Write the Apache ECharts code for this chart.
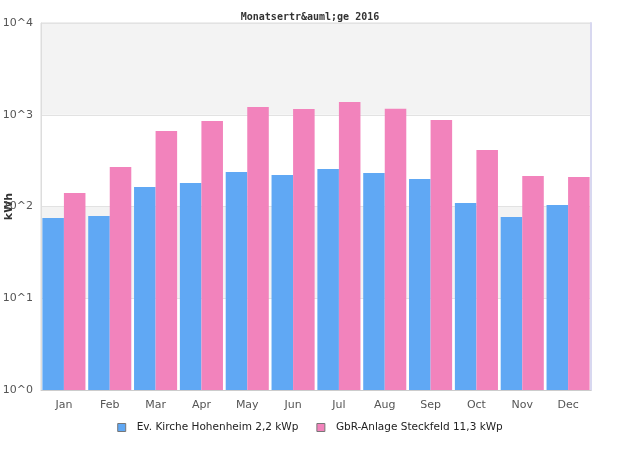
<!DOCTYPE html>
<html>
<head>
<meta charset="utf-8">
<script src="https://cdn.jsdelivr.net/npm/echarts@6/dist/echarts.min.js"></script>
<style>html,body{margin:0;padding:0;background:#fff}#c{width:620px;height:450px}</style>
</head>
<body>
<div id="c"></div>
<script>
var categories = ['Jan','Feb','Mar','Apr','May','Jun','Jul','Aug','Sep','Oct','Nov','Dec'];
var seriesNames = ['Ev. Kirche Hohenheim 2,2 kWp', 'GbR-Anlage Steckfeld 11,3 kWp'];
var kircheValues = [75, 79, 163, 180, 238, 220, 256, 232, 199, 109, 77, 104];
var steckfeldValues = [140, 269, 665, 855, 1215, 1155, 1377, 1160, 877, 413, 215, 210];
var titleText = 'Monatsertr&auml;ge 2016';
var yName = 'kWh';

var chart = echarts.init(document.getElementById('c'), null, {renderer: 'canvas'});
chart.setOption({
  animation: false,
  backgroundColor: '#fff',
  title: {
    text: titleText, left: 'center', top: 7,
    textStyle: {fontFamily: 'DejaVu Sans Mono', fontWeight: 'bold', fontSize: 10, color: '#333'}
  },
  legend: {
    bottom: 12, left: 'center', itemWidth: 8, itemHeight: 8, itemGap: 18,
    icon: 'rect',
    textStyle: {fontFamily: 'DejaVu Sans', fontSize: 10.5, color: '#222', padding: [0, 0, 0, 6]},
    data: seriesNames.map(function (n) { return {name: n, itemStyle: {borderColor: '#777', borderWidth: 1}}; })
  },
  grid: {left: 41, right: 29, top: 23, bottom: 60, containLabel: false, outerBoundsMode: 'none',
    show: true, borderColor: '#dddddd', borderWidth: 1, backgroundColor: 'transparent'},
  xAxis: {
    type: 'category', data: categories,
    axisLine: {lineStyle: {color: '#cccccc'}},
    axisTick: {show: false},
    axisLabel: {fontFamily: 'DejaVu Sans', fontSize: 11, color: '#555', margin: 10}
  },
  yAxis: [{
    type: 'log', logBase: 10, min: 1, max: 10000,
    name: yName, nameLocation: 'middle', nameRotate: 90, nameGap: 26, nameMoveOverlap: false,
    nameTextStyle: {fontFamily: 'DejaVu Sans', fontWeight: 'bold', fontSize: 11, color: '#333'},
    axisLine: {show: true, lineStyle: {color: '#dddddd'}},
    axisTick: {show: false},
    axisLabel: {
      fontFamily: 'DejaVu Sans', fontSize: 11, color: '#555', margin: 8,
      formatter: function (v) { return '10^' + Math.round(Math.log(v) / Math.LN10); }
    },
    splitLine: {lineStyle: {color: '#e2e2e2'}},
    splitArea: {show: true, areaStyle: {color: ['#ffffff', '#f3f3f3']}}
  }, {
    type: 'log', logBase: 10, min: 1, max: 10000, position: 'right',
    axisLine: {show: true, lineStyle: {color: '#d8d8f0', width: 2}},
    axisTick: {show: false}, axisLabel: {show: false}, splitLine: {show: false}
  }],
  series: [{
    name: seriesNames[0], type: 'bar', data: kircheValues,
    barGap: '0%', barCategoryGap: '6%',
    itemStyle: {color: '#60a8f4'}
  }, {
    name: seriesNames[1], type: 'bar', data: steckfeldValues,
    barGap: '0%', barCategoryGap: '6%',
    itemStyle: {color: '#f283bc'}
  }]
});
</script>
</body>
</html>
